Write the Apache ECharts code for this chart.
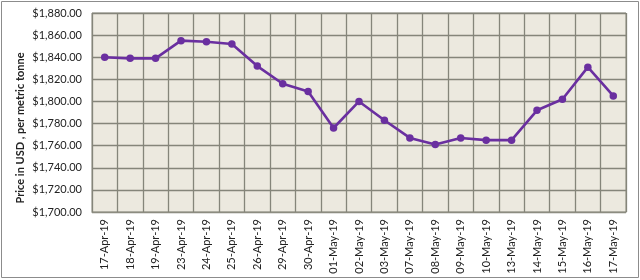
<!DOCTYPE html>
<html><head><meta charset="utf-8">
<script src="https://cdn.jsdelivr.net/npm/echarts@6/dist/echarts.min.js"></script>
<style>html,body{margin:0;padding:0;background:#fff}#c{width:640px;height:280px}</style>
</head><body><div id="c"></div>
<script>
const categories = ['17-Apr-19','18-Apr-19','19-Apr-19','23-Apr-19','24-Apr-19','25-Apr-19','26-Apr-19','29-Apr-19','30-Apr-19','01-May-19','02-May-19','03-May-19','07-May-19','08-May-19','09-May-19','10-May-19','13-May-19','14-May-19','15-May-19','16-May-19','17-May-19'];
const prices = [1840,1839,1839,1855,1854,1852,1832,1816,1809,1776,1800,1783,1767,1761,1767,1765,1765,1792,1802,1831,1805];
const yMin = 1700, yMax = 1880, yStep = 20;
const yName = 'Price in USD , per metric tonne';

const chart = echarts.init(document.getElementById('c'), null, {renderer:'canvas'});
const font = 'Lato, "Open Sans", sans-serif';
chart.setOption({
  animation:false,
  graphic:[
    {type:'rect', shape:{x:1.5,y:1.5,width:637,height:276}, style:{fill:'none', stroke:'#8c8c8c', lineWidth:1}},
    {type:'text', x:20, y:128, rotation:Math.PI/2, style:{text:yName, fontFamily:font, fontSize:11, fontWeight:'bold', fill:'#222', align:'center', verticalAlign:'middle'}}
  ],
  grid:{left:92, right:14, top:13, bottom:68, show:true, backgroundColor:'#ECE9DF', borderColor:'#8c8c80', borderWidth:1},
  xAxis:{type:'category', data:categories, boundaryGap:true,
    axisLine:{show:true, lineStyle:{color:'#8c8c80'}},
    axisTick:{show:false},
    splitLine:{show:true, interval:0, lineStyle:{color:'#85857a', width:1.3}},
    axisLabel:{rotate:90, interval:0, margin:7, color:'#222', fontFamily:font, fontSize:11}},
  yAxis:{type:'value', min:yMin, max:yMax, interval:yStep,
    axisLine:{show:false}, axisTick:{show:false},
    splitLine:{lineStyle:{color:'#85857a', width:1.3}},
    axisLabel:{margin:10, color:'#222', fontFamily:font, fontSize:11,
      formatter:v=>'$'+v.toLocaleString('en-US',{minimumFractionDigits:2, maximumFractionDigits:2})}},
  series:[{type:'line', data:prices, symbol:'circle', symbolSize:7.5,
    lineStyle:{color:'#6A2FA0', width:2.6}, itemStyle:{color:'#6A2FA0'}}]
});
</script></body></html>
